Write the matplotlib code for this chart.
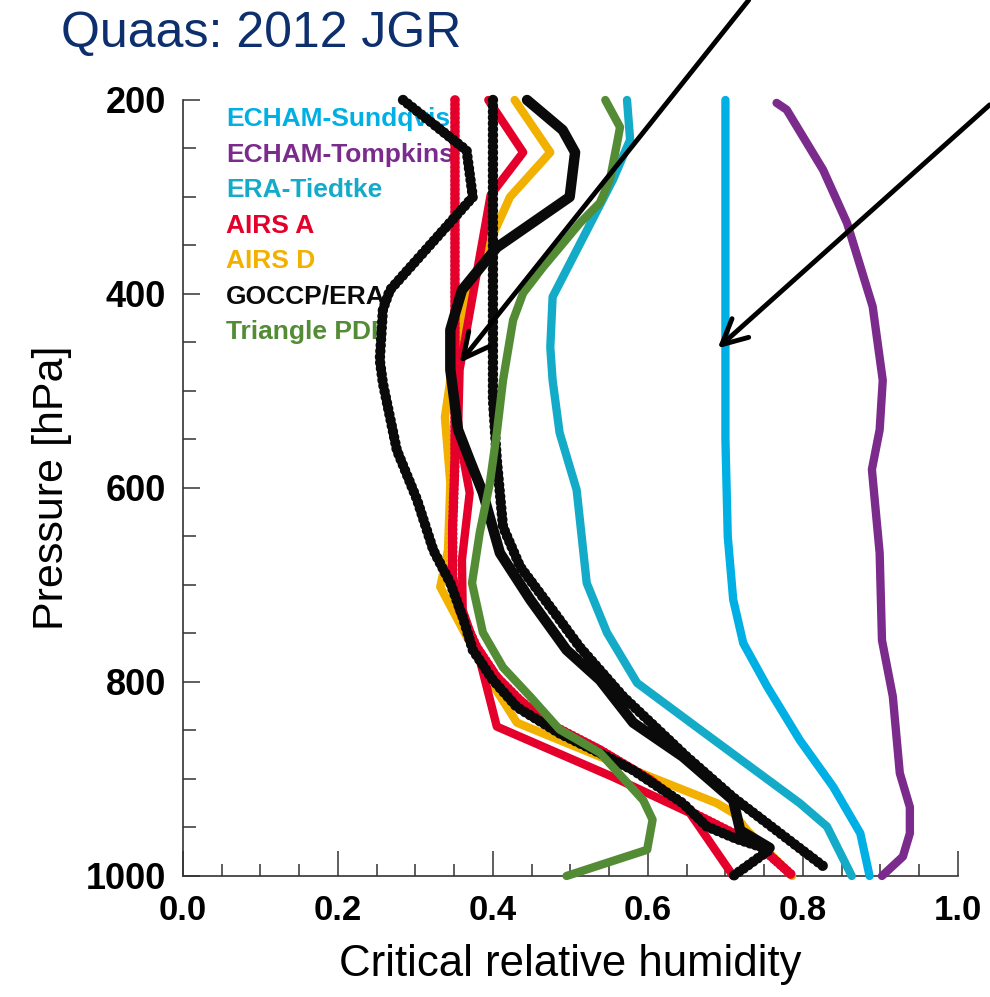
import numpy as np
import matplotlib.pyplot as plt
from matplotlib.ticker import MultipleLocator

plt.rcParams['font.family'] = ['Liberation Sans', 'DejaVu Sans']

# critical RH profiles, pressure in hPa
sundq_p = [200, 550, 650, 715, 760, 805, 860, 908, 956, 1000]
sundq_x = [0.700, 0.700, 0.703, 0.710, 0.723, 0.754, 0.796, 0.839, 0.874, 0.886]

tompk_p = [203, 210, 272, 327, 413, 489, 540, 581, 667, 757, 815, 894, 929, 956, 980, 1000]
tompk_x = [0.766, 0.779, 0.826, 0.857, 0.890, 0.903, 0.899, 0.889, 0.899, 0.902, 0.916,
           0.925, 0.938, 0.938, 0.929, 0.902]

tiedtke_p = [200, 241, 282, 403, 455, 489, 543, 602, 698, 749, 801, 849, 925, 949, 1000]
tiedtke_x = [0.573, 0.577, 0.555, 0.477, 0.474, 0.477, 0.486, 0.508, 0.521, 0.547, 0.586,
             0.667, 0.796, 0.831, 0.863]

airsA_p = [200, 254, 298, 478, 540, 605, 674, 726, 777, 846, 898, 935, 1000]
airsA_x = [0.394, 0.439, 0.397, 0.357, 0.355, 0.370, 0.360, 0.361, 0.383, 0.405, 0.555,
           0.654, 0.710]

airsA2_p = [200, 571, 640, 692, 726, 764, 795, 819, 842, 870, 901, 935, 970, 1000]
airsA2_x = [0.351, 0.351, 0.348, 0.348, 0.357, 0.379, 0.405, 0.435, 0.470, 0.538, 0.603,
            0.658, 0.745, 0.787]

airsD_p = [200, 254, 300, 362, 409, 478, 527, 595, 664, 702, 726, 798, 842, 877, 925, 935,
           953, 1000]
airsD_x = [0.428, 0.474, 0.422, 0.387, 0.366, 0.347, 0.338, 0.345, 0.342, 0.332, 0.348,
           0.396, 0.431, 0.538, 0.689, 0.710, 0.728, 0.786]

goccp_p = [200, 231, 254, 300, 352, 396, 437, 478, 540, 571, 605, 667, 715, 767, 798, 842,
           877, 922, 953, 971]
goccp_x = [0.444, 0.490, 0.506, 0.499, 0.405, 0.360, 0.345, 0.345, 0.355, 0.370, 0.387,
           0.409, 0.448, 0.495, 0.538, 0.581, 0.645, 0.710, 0.719, 0.757]

goccp2_p = [200, 252, 300, 396, 416, 468, 492, 561, 612, 664, 698, 733, 767, 798, 826, 853,
            877, 891, 925, 949, 962, 973, 1000]
goccp2_x = [0.284, 0.366, 0.374, 0.267, 0.258, 0.254, 0.258, 0.276, 0.302, 0.323, 0.345,
            0.361, 0.374, 0.400, 0.431, 0.486, 0.547, 0.581, 0.645, 0.676, 0.715, 0.757, 0.710]

goccp3_p = [200, 509, 571, 640, 681, 726, 764, 815, 877, 919, 966, 991]
goccp3_x = [0.400, 0.400, 0.405, 0.413, 0.435, 0.477, 0.512, 0.568, 0.650, 0.710, 0.787, 0.828]

tri_p = [200, 228, 241, 282, 306, 327, 352, 372, 399, 427, 489, 543, 595, 646, 698, 749,
         785, 815, 849, 873, 922, 942, 973, 1000]
tri_x = [0.545, 0.564, 0.561, 0.551, 0.538, 0.512, 0.486, 0.465, 0.439, 0.426, 0.413, 0.405,
         0.396, 0.383, 0.373, 0.387, 0.413, 0.448, 0.486, 0.538, 0.594, 0.606, 0.599, 0.495]

labels = ['ECHAM-Sundqvist', 'ECHAM-Tompkins', 'ERA-Tiedtke', 'AIRS A', 'AIRS D',
          'GOCCP/ERA', 'Triangle PDF']
colors = ['#00b0e4', '#7b2b8c', '#14abc8', '#e4002b', '#f2b100', '#0a0a0a', '#548c36']

fig = plt.figure(figsize=(9.9, 9.97), dpi=100)
ax = fig.add_axes([0.1848, 0.1214, 0.7828, 0.7783])

solid = dict(solid_capstyle='round', solid_joinstyle='round', clip_on=False)
beads = dict(dash_capstyle='round', clip_on=False)

ax.plot(sundq_x, sundq_p, color=colors[0], lw=6, zorder=3, **solid)
ax.plot(tompk_x, tompk_p, color=colors[1], lw=6, zorder=3, **solid)
ax.plot(tiedtke_x, tiedtke_p, color=colors[2], lw=6, zorder=3, **solid)
ax.plot(airsD_x, airsD_p, color=colors[4], lw=6, zorder=4, **solid)
ax.plot(airsA2_x, airsA2_p, color=colors[3], lw=7, zorder=5,
        linestyle=(0, (0.01, 0.45)), **beads)
ax.plot(airsA_x, airsA_p, color=colors[3], lw=6, zorder=5, **solid)
ax.plot(goccp2_x, goccp2_p, color=colors[5], lw=7.5, zorder=6,
        linestyle=(0, (0.01, 0.55)), **beads)
ax.plot(goccp3_x, goccp3_p, color=colors[5], lw=7.5, zorder=6,
        linestyle=(0, (0.01, 0.55)), **beads)
ax.plot(goccp_x, goccp_p, color=colors[5], lw=7.5, zorder=6, **solid)
ax.plot(tri_x, tri_p, color=colors[6], lw=6, zorder=7, **solid)

# legend as coloured text
for i, (lab, c) in enumerate(zip(labels, colors)):
    ax.text(0.056, 220 + i * 36.5, lab, color=c, fontsize=19, fontweight='bold',
            va='center', ha='left', zorder=1)

# pointer arrows
arrow = dict(arrowstyle='->,head_length=0.9,head_width=0.45', color='black', lw=3.5,
             mutation_scale=20, shrinkA=0, shrinkB=0)
ax.annotate('', xy=(0.357, 471), xytext=(0.730, 97), arrowprops=arrow,
            annotation_clip=False, zorder=10)
ax.annotate('', xy=(0.690, 456), xytext=(1.041, 205), arrowprops=arrow,
            annotation_clip=False, zorder=10)

ax.set_xlim(0, 1)
ax.set_ylim(1000, 200)
ax.xaxis.set_major_locator(MultipleLocator(0.2))
ax.xaxis.set_minor_locator(MultipleLocator(0.05))
ax.yaxis.set_major_locator(MultipleLocator(200))
ax.yaxis.set_minor_locator(MultipleLocator(50))
ax.set_xticks([0, 0.2, 0.4, 0.6, 0.8, 1.0])
ax.set_xticklabels(['0.0', '0.2', '0.4', '0.6', '0.8', '1.0'])

for s in ['top', 'right']:
    ax.spines[s].set_visible(False)
for s in ['left', 'bottom']:
    ax.spines[s].set_color('#333333')
    ax.spines[s].set_linewidth(1.2)

ax.tick_params(axis='x', which='major', direction='in', length=18, width=1.1,
               color='#333333', labelsize=25, pad=13)
ax.tick_params(axis='x', which='minor', direction='in', length=9, width=1.1, color='#333333')
ax.tick_params(axis='y', which='major', direction='in', length=12, width=1.1,
               color='#333333', labelsize=26, pad=12)
ax.tick_params(axis='y', which='minor', direction='in', length=9, width=1.1, color='#333333')
for t in ax.get_xticklabels() + ax.get_yticklabels():
    t.set_fontweight('bold')

ax.set_xlabel('Critical relative humidity', fontsize=31.5, labelpad=12)
ax.set_ylabel('Pressure [hPa]', fontsize=31, labelpad=10)

fig.text(0.062, 0.966, 'Quaas: 2012 JGR', color='#0d2f6e', fontsize=36,
         ha='left', va='center')

fig.savefig('out.png', dpi=100)
